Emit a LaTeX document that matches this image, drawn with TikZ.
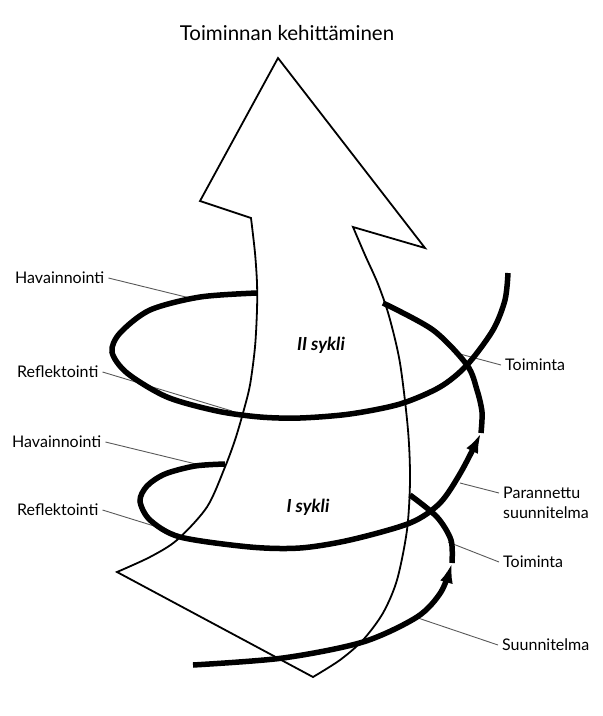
\documentclass[tikz,border=0pt]{standalone}
\usepackage{fontspec}
\setmainfont{Lato}
\usetikzlibrary{arrows.meta}

\begin{document}
\begin{tikzpicture}[x=1pt, y=-1pt,
    lbl/.style={font=\fontsize{16}{20}\selectfont, inner sep=4pt},
    leader/.style={gray!70!black, line width=0.9pt},
    spiral/.style={line width=5.5pt},
    tip/.style={-{Latex[length=20pt,width=13pt]}},
    sykli/.style={font=\fontsize{18}{20}\selectfont\bfseries\itshape}]
    \useasboundingbox (0,0) rectangle (603,716);

    % Title above the arrow
    \node[font=\fontsize{20.5}{24}\selectfont] (title) at (287,33) {Toiminnan kehittäminen};

    % Big white arrow
    \draw[line width=1.8pt, fill=white] (278,58) -- (425,248) -- (353,227)
        -- plot[smooth] coordinates {(353,227) (365,255) (378,284) (389,316) (400,363) (408,430) (410,480) (407,530) (397,580) (383,613) (363,640) (340,660) (313,677)}
        -- (117,572)
        -- plot[smooth] coordinates {(117,572) (150,557) (177,540) (207,507) (225,467) (235,440) (243,413) (250,385) (255,347) (257,310) (257,283) (255,253) (251,218)}
        -- (200,201) -- cycle;

    % Labels on the left
    \node[lbl, anchor=west] (havII) at (11,278) {Havainnointi};
    \node[lbl, anchor=west] (reflII) at (13,372) {Reflektointi};
    \node[lbl, anchor=west] (havI) at (8,442) {Havainnointi};
    \node[lbl, anchor=west] (reflI) at (13,510) {Reflektointi};

    % Labels on the right
    \node[lbl, anchor=west] (toimII) at (501,365) {Toiminta};
    \node[lbl, anchor=west, align=left] (paran) at (499,503) {Parannettu\\suunnitelma};
    \node[lbl, anchor=west] (toimI) at (499,562) {Toiminta};
    \node[lbl, anchor=west] (suun) at (498,645) {Suunnitelma};

    % Leader ends on the spiral
    \coordinate (havIIend) at (190,298);
    \coordinate (reflIIend) at (232,411);
    \coordinate (havIend) at (200,465);
    \coordinate (reflIend) at (167,530);
    \coordinate (toimIIend) at (460,354);
    \coordinate (paranend) at (460,483);
    \coordinate (toimIend) at (448,542);
    \coordinate (suunend) at (418,618);

    \draw[leader] (havII.east) -- (havIIend);
    \draw[leader] (reflII.east) -- (reflIIend);
    \draw[leader] (havI.east) -- (havIend);
    \draw[leader] (reflI.east) -- (reflIend);
    \draw[leader] (toimII.west) -- (toimIIend);
    \draw[leader] ([yshift=10pt]paran.west) -- (paranend);
    \draw[leader] (toimI.west) -- (toimIend);
    \draw[leader] (suun.west) -- (suunend);

    % First cycle
    \draw[spiral, tip] plot[smooth] coordinates {(193,665) (283,658) (363,642) (417,617) (441,592) (452,563)};
    \draw[spiral] plot[smooth] coordinates {(452,563) (451,540) (437,517) (410,495)};
    \draw[spiral, tip] plot[smooth] coordinates {(225,464) (195,466) (165,474) (147,486) (140,501) (150,520) (180,537) (250,547) (300,548) (350,540) (410,523) (440,503) (461,472) (481,433)};

    % Second cycle
    \draw[spiral] plot[smooth] coordinates {(481,433) (482,412) (477,390) (467,365) (433,330) (383,303)};
    \draw[spiral] plot[smooth] coordinates {(257,293) (200,297) (150,310) (120,333) (112,352) (127,373) (167,397) (217,411) (260,417) (300,418) (350,414) (400,404) (440,387) (467,365) (493,330) (505,300) (508,273)};

    % Cycle names
    \node[sykli] (sykliII) at (321,345) {II sykli};
    \node[sykli] (sykliI) at (308,507) {I sykli};
\end{tikzpicture}
\end{document}
